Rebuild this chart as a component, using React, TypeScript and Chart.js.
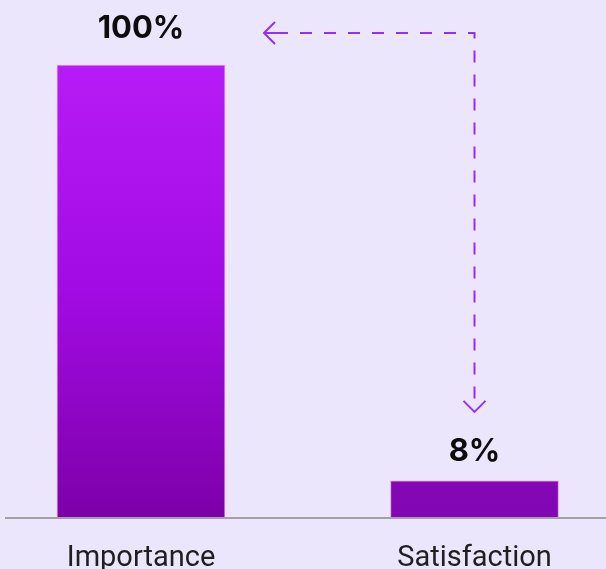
import React, { useEffect, useRef } from "react";
import { Chart, registerables } from "chart.js";

Chart.register(...registerables);

const categories = ["Importance", "Satisfaction"];
const values = [100, 8];
const valueLabels = ["100%", "8%"];

const BG = "#ECE6FC";
const ARROW = "#9430F5";
const LABEL_GAP = [27, 20];
const BAR_STOPS = [
  ["#B71BF7", "#A20BE3", "#7D00A9"],
  ["#8C10C2", "#880DBD", "#8206B4"],
];

const overlayPlugin = {
  id: "overlay",
  beforeDraw(chart: any) {
    const { ctx, width, height } = chart;
    ctx.save();
    ctx.fillStyle = BG;
    ctx.fillRect(0, 0, width, height);
    ctx.restore();
  },
  afterDatasetsDraw(chart: any) {
    const { ctx, chartArea, width } = chart;
    const meta = chart.getDatasetMeta(0);
    ctx.save();
    // baseline
    ctx.strokeStyle = "#A3A0A8";
    ctx.lineWidth = 2;
    ctx.beginPath();
    ctx.moveTo(5, chartArea.bottom + 1);
    ctx.lineTo(width, chartArea.bottom + 1);
    ctx.stroke();

    // value labels
    ctx.fillStyle = "#0d0d0d";
    ctx.textAlign = "center";
    ctx.textBaseline = "alphabetic";
    meta.data.forEach((bar: any, i: number) => {
      ctx.font = "700 31px Inter, 'Noto Sans', sans-serif";
      ctx.fillText(valueLabels[i], bar.x, bar.y - LABEL_GAP[i]);
    });

    // dashed arrow
    const b1 = meta.data[0];
    const b2 = meta.data[1];
    const yH = b1.y - 32;
    const xStart = b1.x + 123;
    const xV = b2.x;
    const yEnd = b2.y - 69;
    ctx.strokeStyle = ARROW;
    ctx.lineWidth = 2;
    ctx.setLineDash([12, 12]);
    ctx.beginPath();
    ctx.moveTo(xStart + 12, yH);
    ctx.lineTo(xV, yH);
    ctx.lineTo(xV, yEnd - 10);
    ctx.stroke();
    ctx.setLineDash([]);
    // left arrowhead
    ctx.beginPath();
    ctx.moveTo(xStart + 11, yH - 11);
    ctx.lineTo(xStart, yH);
    ctx.lineTo(xStart + 11, yH + 11);
    ctx.stroke();
    ctx.beginPath();
    ctx.moveTo(xStart, yH);
    ctx.lineTo(xStart + 14, yH);
    ctx.stroke();
    // down arrowhead
    ctx.beginPath();
    ctx.moveTo(xV - 11, yEnd - 11);
    ctx.lineTo(xV, yEnd);
    ctx.lineTo(xV + 11, yEnd - 11);
    ctx.stroke();
    ctx.restore();
  },
};

export default function App() {
  const ref = useRef<HTMLCanvasElement>(null);
  useEffect(() => {
    document.body.style.margin = "0";
    document.body.style.background = BG;
    const canvas = ref.current!;
    const chart = new Chart(canvas, {
      type: "bar",
      data: {
        labels: categories,
        datasets: [
          {
            data: values,
            backgroundColor: (c: any) => {
              const area = c.chart.chartArea;
              const stops = BAR_STOPS[c.dataIndex] || BAR_STOPS[0];
              if (!area || c.type !== "data") return stops[1];
              const bar = c.chart.getDatasetMeta(0).data[c.dataIndex];
              const top = bar && isFinite(bar.y) ? bar.y : area.top;
              const g = c.chart.ctx.createLinearGradient(0, top, 0, area.bottom);
              g.addColorStop(0, stops[0]);
              g.addColorStop(0.5, stops[1]);
              g.addColorStop(1, stops[2]);
              return g;
            },
            borderColor: "rgba(205,120,250,0.7)",
            borderWidth: { top: 1, left: 1, right: 1, bottom: 0 } as any,
            barThickness: 168,
            clip: false as any,
          },
        ],
      },
      options: {
        responsive: false,
        animation: false,
        layout: { padding: { left: 141, right: 131.5, top: 65, bottom: 0 } },
        plugins: { legend: { display: false }, tooltip: { enabled: false } },
        scales: {
          x: {
            offset: false,
            grid: { display: false, drawTicks: false },
            border: { display: false },
            afterFit: (s: any) => {
              s.height = 52;
            },
            ticks: {
              padding: 27,
              color: "#1f1f1f",
              font: { family: "Roboto", size: 29, weight: "400" as any, lineHeight: 1 },
            },
          },
          y: { display: false, min: 0, max: 100 },
        },
      },
      plugins: [overlayPlugin],
    });
    return () => chart.destroy();
  }, []);
  return (
    <div style={{ width: 606, height: 569 }}>
      <canvas ref={ref} width={606} height={569} />
    </div>
  );
}
